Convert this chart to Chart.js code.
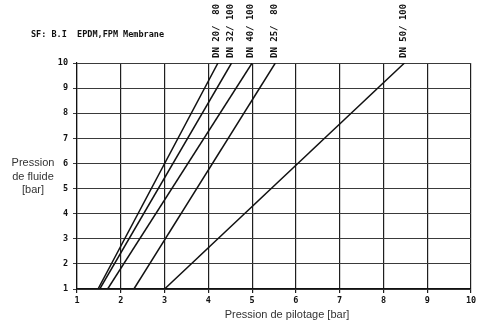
<!DOCTYPE html>
<html>
<head>
<meta charset="utf-8">
<script src="https://cdn.jsdelivr.net/npm/chart.js@4/dist/chart.umd.min.js"></script>
<style>
  html, body { margin: 0; padding: 0; background: #fff; }
</style>
</head>
<body>
<canvas id="myChart" width="477" height="325"></canvas>
<script>
// chart data
const seriesNames = ["DN 20/  80", "DN 32/ 100", "DN 40/ 100", "DN 25/  80", "DN 50/ 100"];
const startX = [1.48, 1.52, 1.70, 2.30, 3.00];
const startY = [1, 1, 1, 1, 1];
const endX = [4.22, 4.53, 5.00, 5.53, 8.48];
const endY = [10, 10, 10, 10, 10];
const xTicks = [1, 2, 3, 4, 5, 6, 7, 8, 9, 10];
const yTicks = [1, 2, 3, 4, 5, 6, 7, 8, 9, 10];
const chartTitle = "SF: B.I  EPDM,FPM Membrane";
const xTitle = "Pression de pilotage [bar]";
const yTitle = ["Pression", "de fluide", "[bar]"];

const tickFont = { family: "'DejaVu Sans Mono', monospace", size: 8.5, weight: "bold" };

// texts that Chart.js can't place by itself
const textPlugin = {
    id: "texts",
    afterDraw(chart) {
        const ctx = chart.ctx;
        const xs = chart.scales.x;
        const ys = chart.scales.y;
        ctx.save();
        ctx.fillStyle = "#111";
        ctx.font = "bold 8.5px 'DejaVu Sans Mono'";
        ctx.textAlign = "left";
        ctx.textBaseline = "middle";
        ctx.fillText(chartTitle, 31, 35);

        ctx.font = "bold 9px 'DejaVu Sans Mono'";
        seriesNames.forEach((name, i) => {
            const px = xs.getPixelForValue(endX[i]) - 1;
            const py = ys.getPixelForValue(endY[i]) - 5;
            ctx.save();
            ctx.translate(px, py);
            ctx.rotate(-Math.PI / 2);
            ctx.fillText(name, 0, 0);
            ctx.restore();
        });

        ctx.font = "11px 'Liberation Sans'";
        ctx.fillStyle = "#333";
        ctx.textAlign = "center";
        ctx.fillText(xTitle, 287, 315);
        yTitle.forEach((t, i) => ctx.fillText(t, 33, 163 + i * 13.5));
        ctx.restore();
    }
};

const datasets = seriesNames.map((name, i) => ({
    label: name,
    data: [
        { x: startX[i], y: startY[i] },
        { x: endX[i], y: endY[i] },
    ],
    showLine: true,
    borderColor: "#111",
    borderWidth: 1.5,
    pointRadius: 0,
    fill: false,
}));

const ctx = document.getElementById("myChart").getContext("2d");
const myChart = new Chart(ctx, {
    type: "scatter",
    data: { datasets: datasets },
    options: {
        responsive: false,
        animation: false,
        layout: { padding: { left: 0, top: 63, right: 6, bottom: 0 } },
        plugins: {
            legend: { display: false },
            tooltip: { enabled: false },
        },
        scales: {
            x: {
                type: "linear",
                min: 1,
                max: 10,
                afterFit: (scale) => {
                    scale.height = 36;
                    scale.paddingRight = 0;
                },
                afterBuildTicks: (scale) => { scale.ticks = xTicks.map((v) => ({ value: v })); },
                grid: { color: "#1f1f1f", lineWidth: 1.2, tickLength: 4 },
                border: { color: "#111", width: 1.2 },
                ticks: { color: "#111", font: tickFont, padding: 3, maxRotation: 0 },
            },
            y: {
                type: "linear",
                min: 1,
                max: 10,
                afterFit: (scale) => { scale.width = 77; },
                afterBuildTicks: (scale) => { scale.ticks = yTicks.map((v) => ({ value: v })); },
                grid: { color: "#3a3a3a", lineWidth: 1, tickLength: 4 },
                border: { color: "#111", width: 1.2 },
                ticks: { color: "#111", font: tickFont, padding: 5 },
            },
        },
    },
    plugins: [textPlugin],
});
</script>
</body>
</html>
